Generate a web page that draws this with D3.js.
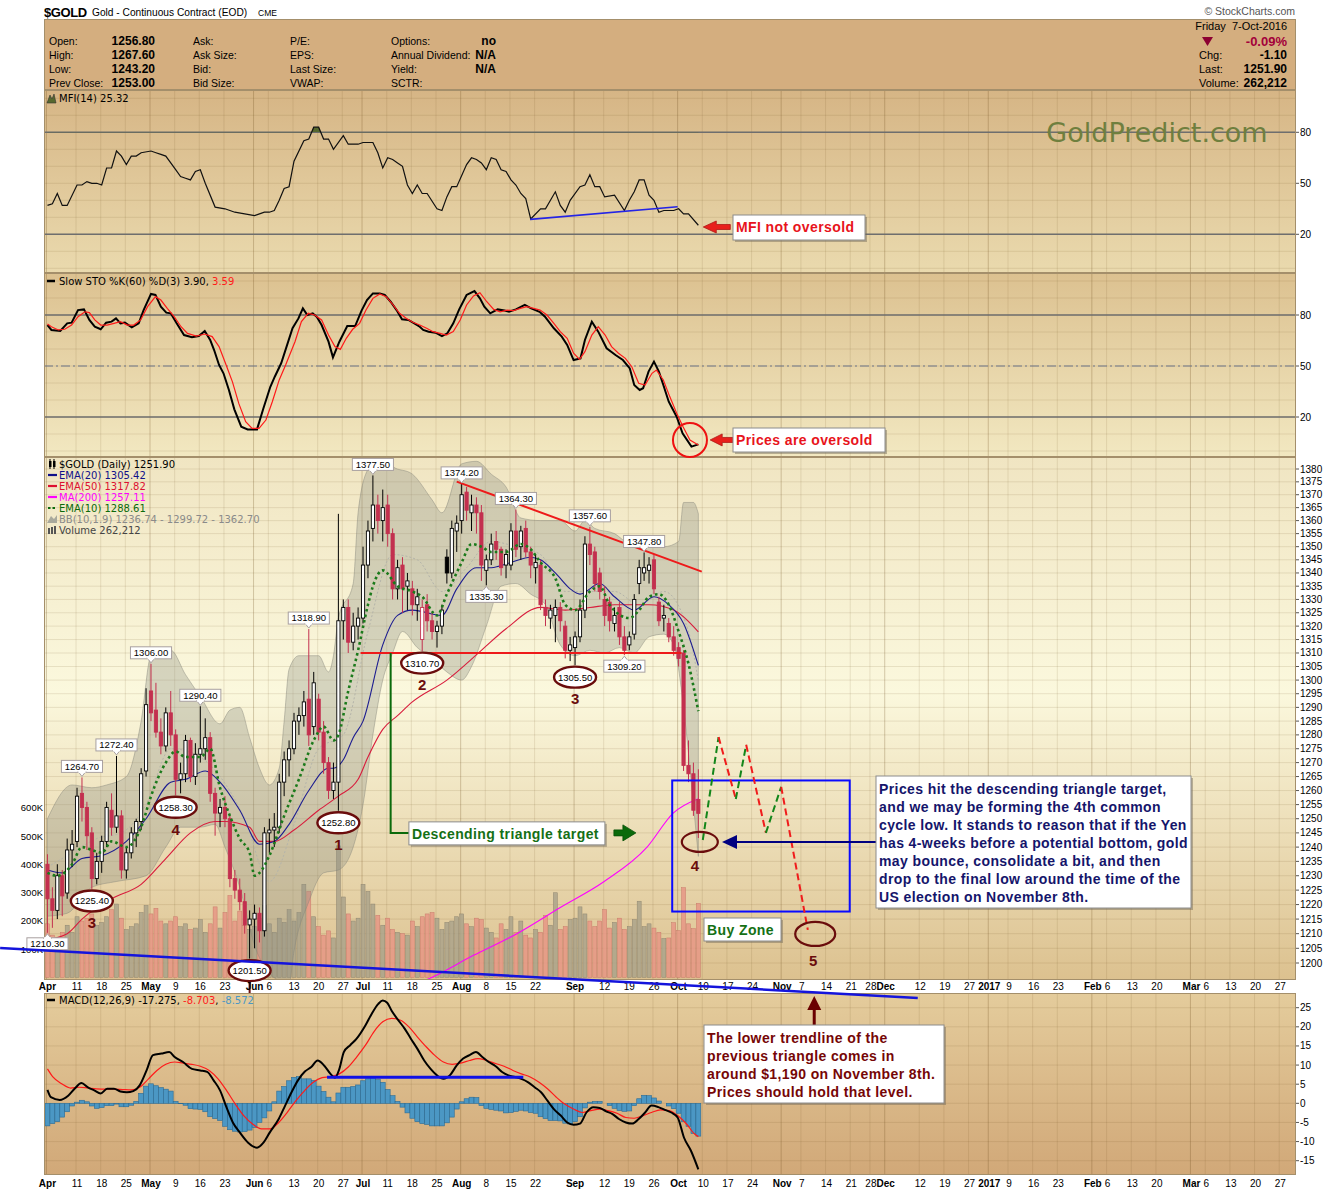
<!DOCTYPE html>
<html>
<head>
<meta charset="UTF-8">
<title>$GOLD - Continuous Contract</title>
<script src="https://d3js.org/d3.v7.min.js"></script>
<style>
  body { margin: 0; background: #fff; }
  text { font-family: "Liberation Sans", Arial, sans-serif; }
  .dv { font-family: "DejaVu Sans", Verdana, sans-serif; }
</style>
</head>
<body>
<div id="chart"></div>
<script>
// ---------- data (trading-day index 0 = 1-Apr-2016, 132 = 7-Oct-2016) ----------
const candles = [
[1234,1237.5,1210.3,1222],[1222,1226,1212,1218],[1218,1234,1215,1230],[1230,1232,1216,1223],
[1224,1243,1222,1239],[1239,1246,1233,1241],[1242,1261,1240,1258],[1259,1264.7,1249,1254],
[1254,1256,1239,1244],[1245,1247,1225.4,1229],[1229,1238,1227,1235],[1235,1244,1231,1242],
[1242,1256,1240,1254],[1253,1259,1244,1247],[1247,1272.4,1245,1251],[1251,1253,1229,1232],
[1232,1240,1229,1238],[1238,1247,1236,1245],[1245,1250,1240,1249],[1249,1268,1246,1266],
[1267,1297,1265,1291],[1296,1306,1285,1288],[1289,1299,1279,1281],[1281,1286,1273,1276],
[1276,1290,1274,1288],[1288,1296,1276,1280],[1280,1282,1258.3,1264],[1264,1270,1259,1266],
[1266,1280,1263,1278],[1278,1279,1263,1265],[1265,1277,1262,1273],[1273,1290.4,1270,1275],
[1275,1286,1271,1279],[1279,1281,1256,1259],[1259,1261,1244,1252],[1252,1257,1247,1254],
[1254,1258,1247,1250],[1250,1251,1226,1229],[1229,1232,1222,1225],[1225,1229,1218,1221],
[1221,1224,1210,1213],[1213,1218,1201.5,1215],[1215,1220,1205,1217],[1217,1219,1207,1211],
[1211,1247,1209,1245],[1245,1250,1238,1246],[1246,1252,1240,1247],[1247,1266,1245,1263],
[1263,1274,1258,1271],[1271,1278,1265,1275],[1275,1288,1273,1285],[1285,1290,1280,1287],
[1287,1296,1283,1292],[1293,1318.9,1276,1280],[1283,1303,1280,1299],[1293,1295,1278,1281],
[1281,1285,1266,1270],[1270,1272,1257,1260],[1260,1270,1257,1263],[1263,1362.6,1252.8,1322],
[1322,1330,1315,1327],[1327,1330,1310,1314],[1314,1325,1311,1320],[1320,1327,1315,1323],
[1323,1350,1321,1343],[1343,1360,1338,1356],[1357,1377.5,1352,1366],[1366,1370,1355,1360],
[1360,1372,1352,1365],[1366,1370,1350,1355],[1355,1357,1330,1334],[1334,1345,1330,1342],
[1343,1346,1325,1334],[1335,1340,1326,1337],[1334,1337,1324,1328],[1328,1334,1322,1331],
[1315,1330,1310.7,1327],[1328,1332,1318,1322],[1322,1325,1315,1318],[1318,1322,1312,1320],
[1320,1328,1317,1326],[1346,1349,1336,1340],[1340,1360,1338,1357],[1356,1362,1348,1359],
[1360,1374.2,1355,1370],[1371,1373,1360,1364],[1363,1370,1356,1366],[1366,1369,1355,1363],
[1363,1366,1337,1343],[1341,1347,1335.3,1345],[1345,1355,1343,1351],[1352,1356,1345,1349],
[1349,1350,1339,1342],[1343,1349,1338,1347],[1343,1359,1341,1356],[1356,1364.3,1346,1349],
[1350,1358,1345,1356],[1357,1360,1346,1348],[1348,1350,1338,1343],[1342,1347,1336,1344],
[1343,1345,1326,1328],[1327,1330,1320,1324],[1323,1328,1319,1326],[1324,1330,1314,1327],
[1327,1329,1318,1322],[1320,1322,1308,1311],[1311,1316,1307,1313],[1312,1318,1305.5,1316],
[1316,1330,1314,1326],[1326,1354,1323,1351],[1351,1357.6,1343,1347],[1348,1350,1333,1336],
[1340,1342,1330,1333],[1330,1335,1320,1324],[1329,1331,1318,1322],[1321,1327,1318,1324],
[1327,1329,1313,1316],[1316,1320,1309.2,1311],[1313,1318,1311,1316],[1317,1332,1315,1330],
[1336,1345,1332,1342],[1340,1347.8,1337,1342],[1341,1346,1336,1343],[1345,1347,1332,1334],
[1329,1331,1320,1322],[1323,1328,1318,1324],[1321,1323,1314,1316],[1316,1320,1309,1311],
[1312,1314,1305,1308],[1310,1311,1267,1269],[1269,1278,1263,1266],[1266,1270,1251,1253],
[1256.8,1267.6,1243.2,1251.9]
];

// volume, thousands of contracts
const volume = [
190,150,140,160,185,160,215,200,210,225,185,195,215,240,260,210,170,180,190,230,255,
225,245,200,190,200,215,180,190,170,175,205,160,190,250,175,230,290,200,235,185,170,
180,210,255,190,160,210,195,240,200,230,330,305,215,180,150,165,140,466,285,225,200,210,
330,305,260,220,185,210,170,160,155,150,200,180,215,225,230,210,170,195,200,215,
225,190,180,210,205,175,160,140,190,170,215,160,200,150,140,170,160,220,185,300,170,180,205,
210,250,225,200,180,200,240,175,195,210,170,180,205,270,180,190,175,160,138,140,194,
166,318,190,173,262.212
];

// overlays: [day index, price]
const ema20 = [[0,1232],[3,1231],[7,1236],[11,1237],[16,1242],[20,1250],[25,1263],[28,1264],[32,1267],[35,1263],[39,1253],[43,1241],[46,1242],[49,1248],[53,1260],[57,1268],[58,1268],[60,1271],[62,1279],[64,1285],[68,1313],[71,1324],[74,1326],[80,1324],[83,1334],[87,1342],[90,1342],[94,1344],[98,1346],[100,1345],[103,1340],[106,1334],[108,1332],[112,1336],[115,1331],[119,1326],[123,1331],[126,1328],[129,1321],[132,1305.42]];
const ema50 = [[0,1208],[4,1210],[7,1215],[13,1222],[19,1227],[24,1236],[29,1245],[34,1249],[36,1249],[41,1247],[43,1242],[46,1242],[50,1246],[55,1253],[59,1258],[63,1264],[65,1272],[68,1282],[71,1287],[74,1292],[81,1300],[88,1311],[93,1319],[100,1327],[105,1326],[110,1327],[115,1328],[122,1328],[127,1326],[132,1317.82]];
const ma200 = [[60,1187],[70,1191],[76.4,1194],[86.4,1202.6],[95.2,1210],[104,1219],[112.9,1228],[121.6,1240],[126.9,1252],[132,1257.11]];
const ema10 = [[0,1231],[2,1230],[5,1234],[7,1240],[9,1239],[11,1238],[13,1242],[16,1240],[19,1247],[21,1258],[24,1270],[26,1274],[28,1272],[31,1272],[33,1275],[35,1261],[37,1251],[39,1243],[41,1238],[42,1230],[43,1231],[45,1237],[48,1251],[51,1264],[54,1278],[56,1283],[58,1278],[59,1280],[61,1296],[63,1311],[65,1328],[66,1335],[68,1341],[71,1335],[74,1333],[76,1331],[79,1324],[81,1332],[84,1344],[86,1351],[88,1350],[90,1348],[93,1348],[96,1351],[98,1349],[100,1344],[103,1338],[105,1328],[107,1326],[110,1333],[112,1335],[114,1328],[118,1323],[120,1326],[122,1331],[124,1332],[126,1328],[128,1318],[130,1306],[132,1288.61]];
const bbUpper = [[0,1250],[5,1262],[9,1261],[12,1262],[16,1265],[19,1285],[21,1309],[25,1311],[28,1302],[31,1294],[35,1284],[37,1289],[39,1290],[41,1279],[43,1268],[45,1262],[47,1268],[48,1285],[49,1304],[51,1309],[55,1309],[57,1303],[58,1309],[59,1323],[62,1336],[63,1363],[65,1380],[68,1386],[70,1381],[74,1378],[78,1368],[80,1363],[84,1382],[87,1383],[90,1378],[93,1373],[96,1361],[100,1360],[104,1360],[107,1356],[109,1360],[111,1357],[115,1355],[118,1351],[121,1350],[125,1350],[128,1352],[129,1367],[131,1367],[132,1362.70]];
const bbLower = [[0,1216],[4,1217],[9,1226],[14,1228],[20,1230],[24,1240],[27,1247],[31,1247],[34,1248],[36,1240],[39,1226],[42,1206],[46,1195],[49,1193],[50,1204],[53,1221],[56,1231],[59,1232],[62,1240],[64,1255],[66,1280],[68,1300],[70,1310],[72,1318],[75,1312],[78,1308],[81,1303],[84,1300],[86,1305],[89,1320],[92,1335],[95,1336],[98,1332],[101,1328],[104,1313],[107,1309],[110,1311],[113,1310],[116,1312],[119,1310],[122,1316],[125,1317],[127,1313],[129,1290],[131,1255],[132,1236.74]];
const bbMid = [[0,1233],[5,1238],[10,1243],[15,1245],[20,1255],[25,1275],[30,1273],[35,1265],[40,1250],[45,1228],[50,1248],[55,1275],[60,1280],[65,1318],[70,1347],[75,1345],[80,1333],[85,1342],[90,1352],[95,1350],[100,1347],[105,1333],[110,1333],[115,1333],[120,1328],[125,1333],[130,1318],[132,1299.72]];

// MFI(14)
const mfi = [[0,37],[1,38],[2,44],[3,37],[4,37],[6,49],[7,49],[8,51],[9,50],[10,50],[11,49],[12,59],[13,59],[14,69],[15,66],[16,61],[17,66],[18,66],[19,68],[21,69],[22,68],[23,67],[24,66],[26,58],[27,54],[28,53],[29,52],[30,57],[31,58],[32,50],[34,36],[36,35],[37,34],[38,33],[40,32],[42,31],[43,32],[44,33],[45,33],[46,34],[47,40],[48,47],[49,48],[50,63],[52,75],[53,76],[54,83],[55,83],[56,76],[57,76],[58,70],[60,78],[61,73],[63,73],[64,74],[66,74],[67,68],[68,59],[69,65],[70,64],[71,62],[72,60],[73,49],[74,44],[75,49],[76,44],[77,44],[79,35],[80,34],[81,42],[82,48],[83,48],[85,61],[86,65],[87,64],[88,62],[89,58],[90,65],[91,64],[92,58],[93,57],[94,52],[95,49],[96,44],[97,41],[98,29],[100,35],[101,35],[103,45],[104,37],[105,33],[106,40],[108,48],[109,49],[110,55],[111,48],[112,48],[113,42],[115,43],[117,34],[118,40],[119,45],[120,52],[121,52],[122,43],[123,40],[124,33],[125,34],[127,34],[128,35],[129,32],[130,32],[132,25.32]];

// Slow STO %K(60) %D(3)
const stoK = [[0,74.1],[0.8,71.2],[2.6,70.6],[4,75.1],[4.9,75.5],[6.2,82.9],[7.4,83.3],[8.5,77.1],[9.6,73.1],[10.8,71.6],[11.9,75.5],[13,76.1],[13.9,78],[14.8,75.1],[15.7,75.5],[17.1,72.7],[18.5,75.1],[19.5,82.9],[21,92.4],[21.9,91.8],[23,84.9],[24.1,81.4],[25,81],[26.2,75.1],[27.7,68.2],[29.3,66.9],[30.7,67.6],[31.9,70.6],[33,65.3],[33.8,59.4],[34.8,50.6],[35.7,45.7],[36.8,35.9],[37.9,24.5],[39.3,14.3],[40.6,12.7],[42.5,12.7],[43.8,25.1],[45.2,37.8],[46.1,43.7],[47.4,51.6],[49.7,72.2],[50.9,78],[51.8,83.9],[52.7,80],[53.8,81],[54.7,78.6],[55.6,74.1],[57,64.3],[57.9,55.1],[59.2,64.3],[60.8,73.5],[62.4,73.5],[63.7,82.6],[64.8,88.8],[66,92.7],[67.4,92.7],[68.4,91.8],[69.6,87.8],[70.8,82.9],[71.9,77.5],[73.2,77.1],[74.4,75.1],[75.5,73.1],[76.2,71.2],[77.3,70.2],[78.7,69.6],[80,67.6],[81.1,69.2],[82.3,75.1],[83.5,83.3],[85,91.8],[86.6,94.1],[87.7,89.8],[88.6,84.9],[89.8,81],[91.3,83.3],[92.7,82.6],[93.6,81.9],[95,83.3],[96.8,85.9],[98.1,83.9],[99.8,81.9],[100.9,79],[102.7,72.2],[104.3,67.3],[105.4,62.4],[106.7,53.5],[108.1,54.5],[109,65.3],[110.4,76.1],[111.7,70.2],[113.4,60.4],[115.2,56.5],[116.7,53.5],[118.1,48.6],[119,38.8],[120.1,35.9],[120.8,36.9],[121.9,46.7],[123,52.6],[124,46.7],[124.9,38.8],[126,29],[127.6,20.2],[128.8,10.4],[130.6,2.6],[132,3.90]];
const stoD = [[0,74.7],[0.8,73.1],[2.2,71.2],[3.5,71.6],[4.9,74.1],[6.2,79],[7.6,81.9],[8.5,81.4],[9.6,77.1],[10.8,74.1],[12.1,74.1],[13.5,75.1],[14.8,76.1],[16.2,74.1],[17.5,74.1],[18.9,77.1],[20.3,84.9],[21.9,90.8],[23,88.8],[24.3,83.9],[25.7,79],[27.1,73.1],[28.4,69.2],[30.2,67.6],[31.9,68.8],[33.4,67.3],[34.8,61.4],[36.1,51.6],[37.5,40.8],[38.8,28],[40.2,17.3],[41.5,13.3],[42.9,13.3],[44.3,18.2],[45.6,29],[47,41.8],[48.3,50.6],[50.2,64.3],[51.5,76.1],[52.9,81],[54.2,80],[55.6,77.1],[57,68.2],[58.3,61.4],[59.4,59.8],[60.6,66.3],[61.9,71.6],[63.3,75.1],[64.6,82.9],[66,89.8],[67.4,92.4],[68.7,90.8],[70.1,85.9],[71.4,81],[72.8,78],[74.1,75.7],[75.5,74.1],[76.9,72.2],[78.2,70.2],[79.6,69.2],[80.9,68.2],[82.3,70.2],[83.7,77.1],[85,85.9],[86.4,91.2],[87.7,93.1],[89.1,87.8],[90.5,83.3],[91.8,81.9],[93.2,82.9],[94.5,82.6],[95.9,83.9],[97.2,84.9],[98.6,83.9],[99.9,82.9],[101.3,80],[102.7,75.1],[104,70.2],[105.4,66.3],[106.7,57.5],[107.9,53.9],[109,58.4],[110.4,68.2],[111.7,73.1],[113.1,68.2],[114.4,61.4],[115.8,57.5],[117.2,54.5],[118.5,49.6],[119.9,39.8],[121.2,38.8],[122.6,45.7],[123.5,47.6],[124.9,41.8],[126.2,32],[127.6,22.2],[128.9,14.3],[130.3,6.5],[132,3.59]];

// MACD(12,26,9)
const macdLine = [[0,3.5],[0.7,1.6],[2.5,0.9],[4.2,2.0],[5.5,3.8],[6.9,5.3],[8.2,4.2],[9.5,3.4],[10.8,2.6],[12.1,3.8],[13.5,3.8],[14.8,3.1],[16.1,2.9],[17.4,3.2],[18.7,4.7],[20.1,8.6],[21.4,12.6],[23.1,13.0],[24.7,13.4],[25.8,12.1],[27.5,10.8],[29.3,9.0],[31,8.6],[32.4,8.2],[33.7,6.0],[35,3.4],[36.3,-1.0],[37.6,-5.0],[39,-7.6],[40.7,-10.3],[42.5,-11.6],[43.8,-10.3],[45.1,-7.6],[46.9,-4.1],[48.2,-0.6],[49.5,2.9],[50.8,6.0],[52.2,8.3],[53.5,9.5],[54.8,11.2],[56.1,9.9],[57.4,7.7],[58.3,6.7],[59.2,9.0],[60.1,13.4],[61.4,15.2],[62.7,16.9],[64.5,20.4],[65.8,23.5],[67.1,26.0],[68,26.9],[68.9,26.3],[69.8,24.2],[71.1,21.8],[72.4,19.6],[73.7,16.9],[75,14.3],[76.4,11.2],[77.7,9.0],[79,7.3],[80.3,6.4],[81.6,7.3],[83,9.9],[84.3,11.7],[85.6,12.6],[86.9,13.4],[88.2,12.1],[89.5,10.8],[90.9,9.7],[92.2,8.2],[93.5,7.3],[94.8,6.9],[96.1,6.4],[97.5,5.5],[98.8,4.2],[100.1,2.9],[101.4,0.7],[102.7,-1.5],[104.1,-3.2],[105.4,-5.0],[106.7,-5.6],[108,-5.3],[109.3,-2.4],[110.7,-1.0],[112,-1.2],[113.3,-2.1],[114.6,-2.8],[115.9,-4.1],[117.3,-5.0],[118.6,-5.3],[119.9,-4.1],[121.2,-2.4],[122.5,-0.6],[123.9,-1.0],[125.2,-1.7],[126.5,-2.4],[127.8,-3.7],[129.1,-9.0],[130.5,-12.4],[132,-17.275]];
const macdSignal = [[0,9.0],[1.1,6.9],[2.9,5.1],[4.7,4.0],[6.4,4.2],[8.2,4.0],[9.9,3.8],[11.7,3.7],[13.5,3.7],[15.2,3.6],[17,3.5],[18.7,4.2],[20.5,6.4],[22.2,8.6],[24,10.2],[25.8,10.8],[27.5,10.5],[29.3,10.2],[31,9.7],[32.8,8.6],[34.6,6.4],[36.3,3.4],[38.1,-0.2],[39.8,-3.2],[41.6,-5.4],[43.4,-6.7],[45.1,-6.7],[46.9,-5.0],[48.6,-2.4],[50.4,0.7],[52.2,3.4],[53.9,5.5],[55.7,6.7],[57.4,7.0],[59.2,7.7],[61,9.5],[62.7,12.1],[64.5,15.2],[66.2,18.7],[68,21.3],[69.8,22.2],[71.5,21.8],[73.3,20.0],[75,17.4],[76.8,14.8],[78.5,12.6],[80.3,10.8],[82.1,10.2],[83.8,10.5],[85.6,11.2],[87.3,11.7],[89.1,11.2],[90.9,10.4],[92.6,9.7],[94.4,8.6],[96.1,7.7],[97.9,6.9],[99.7,5.5],[101.4,3.8],[103.2,1.6],[104.9,-0.2],[106.7,-1.5],[108.5,-2.4],[110.2,-1.9],[112,-1.5],[113.7,-1.9],[115.5,-2.6],[117.3,-3.7],[119,-3.9],[120.8,-3.2],[122.5,-2.4],[124.3,-1.7],[126.1,-1.9],[127.8,-3.2],[129.6,-5.4],[131.3,-8.1],[132,-8.703]];
const macdHist = [
-5.9,-5.3,-4.8,-3.6,-2.2,-0.7,0.3,0.8,0.4,-0.7,-1.3,-1.1,-0.6,-0.6,-0.2,-0.9,-0.9,-0.5,0.5,2.6,
4.5,5.1,4.6,4.1,3.7,3.2,0.5,-0.1,-0.5,-1.4,-1.5,-1.6,-2.2,-3.5,-4.0,-4.5,-6.0,-6.9,-7.3,-7.5,
-7.4,-7.0,-6.3,-5.0,-3.8,-2.0,0.4,3.2,4.4,5.9,6.8,7.0,6.4,6.4,6.0,4.5,3.1,1.6,0.4,2.7,
4.2,4.2,4.4,4.8,5.9,6.4,6.7,6.2,5.5,3.6,2.0,0.5,-1.0,-2.5,-3.9,-4.8,-5.3,-5.5,-5.9,-5.9,
-5.9,-5.1,-3.6,-1.5,0.4,1.2,1.6,1.5,-0.6,-1.3,-1.6,-1.8,-2.0,-2.5,-2.4,-2.1,-1.8,-2.0,-2.4,-2.6,
-3.5,-4.0,-4.5,-4.5,-4.6,-5.2,-5.4,-4.8,-3.5,-1.2,0.3,0.5,0.5,0.0,-0.6,-1.3,-1.9,-2.1,-2.0,-0.6,
1.2,2.1,2.0,1.4,0.6,0.0,-0.7,-1.4,-2.6,-4.8,-6.0,-7.9,-8.572
];

// date axis: [day index, label, month start]
const dateTicks = [[0,"Apr",1],[6,"11"],[11,"18"],[16,"25"],[21,"May",1],[26,"9"],[31,"16"],[36,"23"],
[42,"Jun",1],[45,"6"],[50,"13"],[55,"20"],[60,"27"],[64,"Jul",1],[69,"11"],[74,"18"],[79,"25"],
[84,"Aug",1],[89,"8"],[94,"15"],[99,"22"],[107,"Sep",1],[113,"12"],[118,"19"],[123,"26"],
[128,"Oct",1],[133,"10"],[138,"17"],[143,"24"],[149,"Nov",1],[153,"7"],[158,"14"],[163,"21"],[167,"28"],
[170,"Dec",1],[177,"12"],[182,"19"],[187,"27"],[191,"2017",1],[195,"9"],[200,"16"],[205,"23"],
[212,"Feb",1],[215,"6"],[220,"13"],[225,"20"],[232,"Mar",1],[235,"6"],[240,"13"],[245,"20"],[250,"27"]];

// price labels and cycle counts
const highLabels = [7,14,21,31,53,66,84,95,110,121];
const lowLabels = [0,89,117];
const cycleLows = [[9,"3"],[26,"4"],[41,"5"],[59,"1"],[76,"2"],[107,"3"]];

// drawn annotations (day index, value)
const triTop = [[83,1375.1],[132.7,1340.5]];
const triBase = [[63.5,1310],[128.6,1310]];
const targetLeg = [[69.6,1310],[69.6,1245],[73.3,1245]];
const oldTrend = [[-9.6,1205.1],[176.5,1188.2]];
const mfiTrend = [[97.9,28.8],[127.8,36.2]];
const macdLevel = [[56.7,6.8],[96.5,6.8]];
const projection = [[132.9,1242.5],[136.1,1279.2],[139.6,1257],[141.7,1276.4],[145.7,1245],[148.8,1261.3],[154.2,1211.3]];
const buyZone = [126.7,162.7,1263.6,1217.6];
const low4 = [132.3,1241.8], low5 = [155.7,1209.9];

// ---------- layout ----------
const W = 1340, H = 1192, L = 44, R = 1296;
const panels = { mfi:[90,273], sto:[273,457], price:[457,980], macd:[993,1175] };

const x  = d3.scaleLinear().domain([-0.7,253]).range([L,1295]);
const yP = d3.scaleLog().domain([1200,1380]).range([963,469]);
const yV = d3.scaleLinear().domain([0,600]).range([977.5,808]);
const yM = d3.scaleLinear().domain([20,80]).range([234.3,132.3]);
const yS = d3.scaleLinear().domain([20,80]).range([417,315]);
const yD = d3.scaleLinear().domain([-15,25]).range([1160.7,1007.7]);

const svg = d3.select("#chart").append("svg").attr("width",W).attr("height",H);
const defs = svg.append("defs");
const last = a => { const v = a[a.length-1]; return Array.isArray(v) ? v[1] : v; };

function gradient(id, stops) {
  const g = defs.append("linearGradient").attr("id",id).attr("x1",0).attr("y1",0).attr("x2",0).attr("y2",1);
  stops.forEach(([o,c]) => g.append("stop").attr("offset",o).attr("stop-color",c));
}
gradient("gMfi",[[0,"#d6b585"],[1,"#eadaae"]]);
gradient("gSto",[[0,"#dcc190"],[1,"#f2e8c1"]]);
gradient("gPrice",[[0,"#f0e5c2"],[0.45,"#fbf8dd"],[1,"#dcc18f"]]);
gradient("gMacd",[[0,"#e4cc9c"],[1,"#d1a878"]]);

Object.entries(panels).forEach(([k,[t,b]]) =>
  defs.append("clipPath").attr("id","c_"+k).append("rect").attr("x",L).attr("y",t).attr("width",R-L).attr("height",b-t));

function panel(key, gid, yScale, grid, labels) {
  const [t,b] = panels[key];
  svg.append("rect").attr("x",L).attr("y",t).attr("width",R-L).attr("height",b-t).attr("fill",`url(#${gid})`);
  const g = svg.append("g").attr("clip-path",`url(#c_${key})`);
  dateTicks.forEach(([i,,m]) => g.append("line").attr("x1",x(i)-1).attr("x2",x(i)-1).attr("y1",t).attr("y2",b)
    .attr("stroke","#6b4c1e").attr("stroke-opacity", m ? 0.28 : 0.13));
  grid.forEach(v => g.append("line").attr("x1",L).attr("x2",R).attr("y1",yScale(v)).attr("y2",yScale(v))
    .attr("stroke","#6b4c1e").attr("stroke-opacity",0.13));
  labels.forEach(v => {
    svg.append("line").attr("x1",R).attr("x2",R+3).attr("y1",yScale(v)).attr("y2",yScale(v)).attr("stroke","#555");
    svg.append("text").attr("x",R+4).attr("y",yScale(v)).attr("dy","0.35em").attr("font-size",10).text(v);
  });
  return g;
}
function border(key) {
  const [t,b] = panels[key];
  svg.append("rect").attr("x",L+0.5).attr("y",t+0.5).attr("width",R-L-1).attr("height",b-t-1)
    .attr("fill","none").attr("stroke","#a48f6b");
}
const line = (ys, curve) => d3.line().x(d => x(d[0])).y(d => ys(d[1])).curve(curve || d3.curveLinear);

// ---------- title + header ----------
svg.append("text").attr("x",44).attr("y",17).attr("font-size",13).attr("font-weight","bold").attr("letter-spacing","-0.4px").text("$GOLD");
svg.append("text").attr("x",92).attr("y",16).attr("font-size",10.2).text("Gold - Continuous Contract (EOD)");
svg.append("text").attr("x",258).attr("y",16).attr("font-size",8.5).text("CME");
svg.append("text").attr("x",1295).attr("y",15).attr("text-anchor","end").attr("font-size",10.5).attr("fill","#555").text("\u00A9 StockCharts.com");

svg.append("rect").attr("x",L+0.5).attr("y",19.5).attr("width",R-L-1).attr("height",70).attr("fill","#d4ae7f").attr("stroke","#a48f6b");
const hdr = [
  [49,155,[["Open:",candles[132][0].toFixed(2)],["High:",candles[132][1].toFixed(2)],["Low:",candles[132][2].toFixed(2)],["Prev Close:",candles[131][3].toFixed(2)]]],
  [193,0,[["Ask:",""],["Ask Size:",""],["Bid:",""],["Bid Size:",""]]],
  [290,0,[["P/E:",""],["EPS:",""],["Last Size:",""],["VWAP:",""]]],
  [391,496,[["Options:","no"],["Annual Dividend:","N/A"],["Yield:","N/A"],["SCTR:",""]]]
];
hdr.forEach(([lx,vx,rows]) => rows.forEach(([lab,val],k) => {
  svg.append("text").attr("x",lx).attr("y",45+k*14).attr("font-size",10.5).text(lab);
  if (val) svg.append("text").attr("x",vx).attr("y",45+k*14).attr("text-anchor","end").attr("font-size",12).attr("font-weight","bold").text(val);
}));
const lastC = candles[132][3], prevC = candles[131][3];
svg.append("text").attr("x",1287).attr("y",30).attr("text-anchor","end").attr("font-size",11).attr("xml:space","preserve").text("Friday  7-Oct-2016");
svg.append("path").attr("d","M1202,37 L1213,37 L1207.5,46 Z").attr("fill","#8c0032");
svg.append("text").attr("x",1287).attr("y",46).attr("text-anchor","end").attr("font-size",13).attr("font-weight","bold").attr("fill","#a3003a")
  .text(((lastC-prevC)/prevC*100).toFixed(2)+"%");
[["Chg:",(lastC-prevC).toFixed(2)],["Last:",lastC.toFixed(2)],["Volume:",d3.format(",")(Math.round(last(volume)*1000))]].forEach(([lab,val],k) => {
  svg.append("text").attr("x",1199).attr("y",59+k*14).attr("font-size",11).text(lab);
  svg.append("text").attr("x",1287).attr("y",59+k*14).attr("text-anchor","end").attr("font-size",12).attr("font-weight","bold").text(val);
});

// ---------- MFI panel ----------
const gm = panel("mfi","gMfi",yM,d3.range(0,101,10),[80,50,20]);
[80,20].forEach(v => gm.append("line").attr("x1",L).attr("x2",R).attr("y1",yM(v)).attr("y2",yM(v)).attr("stroke","#6e6e6e").attr("stroke-width",1.5));
defs.append("clipPath").attr("id","c_mfi80").append("rect").attr("x",L).attr("y",panels.mfi[0]).attr("width",R-L).attr("height",yM(80)-panels.mfi[0]);
gm.append("path").attr("d",d3.area().x(d=>x(d[0])).y0(yM(80)).y1(d=>yM(d[1]))(mfi)).attr("fill","#56682e").attr("clip-path","url(#c_mfi80)");
gm.append("path").attr("d",line(yM)(mfi)).attr("fill","none").attr("stroke","#111").attr("stroke-width",1.2);
gm.append("path").attr("d",line(yM)(mfiTrend)).attr("stroke","#2424e6").attr("stroke-width",1.6);
svg.append("text").attr("class","dv").attr("x",1157).attr("y",133).attr("dy","0.35em").attr("text-anchor","middle")
  .attr("font-size",27).attr("fill","#6f7f3e").text("GoldPredict.com");
svg.append("path").attr("d","M47,103 L50,95 L52,99 L54,94 L56,103 Z").attr("fill","#56682e").attr("stroke","#333").attr("stroke-width",0.6);
svg.append("text").attr("class","dv").attr("x",59).attr("y",98).attr("dy","0.35em").attr("font-size",10).text(`MFI(14) ${last(mfi).toFixed(2)}`);
border("mfi");

// ---------- STO panel ----------
const gs = panel("sto","gSto",yS,d3.range(0,101,10),[80,50,20]);
[80,20].forEach(v => gs.append("line").attr("x1",L).attr("x2",R).attr("y1",yS(v)).attr("y2",yS(v)).attr("stroke","#6e6e6e").attr("stroke-width",1.4));
gs.append("line").attr("x1",L).attr("x2",R).attr("y1",yS(50)).attr("y2",yS(50)).attr("stroke","#6c7488").attr("stroke-width",1.2).attr("stroke-dasharray","9,3,2,3");
gs.append("path").attr("d",line(yS)(stoK)).attr("fill","none").attr("stroke","#000").attr("stroke-width",2);
gs.append("path").attr("d",line(yS)(stoD)).attr("fill","none").attr("stroke","#ff1a1a").attr("stroke-width",1.2);
svg.append("line").attr("x1",47).attr("x2",55).attr("y1",281).attr("y2",281).attr("stroke","#000").attr("stroke-width",2.5);
const stoLeg = svg.append("text").attr("class","dv").attr("x",59).attr("y",281).attr("dy","0.35em").attr("font-size",10);
stoLeg.append("tspan").text(`Slow STO %K(60) %D(3) ${last(stoK).toFixed(2)}, `);
stoLeg.append("tspan").attr("fill","#ff1a1a").text(last(stoD).toFixed(2));
border("sto");

// ---------- price panel ----------
const gp = panel("price","gPrice",yP,d3.range(1200,1381,5),d3.range(1200,1381,5));
[100,200,300,400,500,600].forEach(v => svg.append("text").attr("x",43).attr("y",yV(v)).attr("dy","0.35em")
  .attr("text-anchor","end").attr("font-size",9.5).text(v+"K"));
const down = i => candles[i][3] < (i > 0 ? candles[i-1][3] : candles[i][0]);
gp.selectAll(".vol").data(volume).join("rect")
  .attr("x",(d,i)=>x(i)-2).attr("width",4).attr("y",d=>yV(d)).attr("height",d=>yV(0)-yV(d))
  .attr("fill",(d,i)=>down(i) ? "#e69685" : "#aca38b").attr("fill-opacity",0.85)
  .attr("stroke",(d,i)=>down(i) ? "#c97a6a" : "#8f8670").attr("stroke-width",0.5);
const mono = ys => line(ys, d3.curveMonotoneX);
const upP = mono(yP)(bbUpper), loP = mono(yP)(bbLower.slice().reverse());
gp.append("path").attr("d",upP+"L"+loP.slice(1)+"Z").attr("fill","#8e9084").attr("fill-opacity",0.34)
  .attr("stroke","#85857a").attr("stroke-opacity",0.45);
gp.append("path").attr("d",mono(yP)(bbMid)).attr("fill","none").attr("stroke","#b4b4aa").attr("stroke-dasharray","2,2");
gp.append("path").attr("d",mono(yP)(ma200)).attr("fill","none").attr("stroke","#ff00ff").attr("stroke-width",1.1);
gp.append("path").attr("d",mono(yP)(ema50)).attr("fill","none").attr("stroke","#d81c3c").attr("stroke-width",1.1);
gp.append("path").attr("d",mono(yP)(ema20)).attr("fill","none").attr("stroke","#1c1c90").attr("stroke-width",1.1);

const cg = gp.append("g");
candles.forEach(([o,h,l,c],i) => {
  const col = down(i) ? "#c3304f" : "#000";
  cg.append("line").attr("x1",x(i)).attr("x2",x(i)).attr("y1",yP(h)).attr("y2",yP(l)).attr("stroke",col);
  cg.append("rect").attr("x",x(i)-1.6).attr("width",3.2)
    .attr("y",yP(Math.max(o,c))).attr("height",Math.max(1,Math.abs(yP(o)-yP(c))))
    .attr("fill", c >= o ? "#fff" : col).attr("stroke",col).attr("stroke-width",0.9);
});
gp.append("path").attr("d",mono(yP)(ema10)).attr("fill","none").attr("stroke","#1b7a1b").attr("stroke-width",2.6).attr("stroke-dasharray","2.6,3");

// legend
const leg = [
  ["#000","$GOLD (Daily) "+lastC.toFixed(2),"candle"],
  ["#10108a",`EMA(20) ${last(ema20).toFixed(2)}`,"line"],
  ["#dd1030",`EMA(50) ${last(ema50).toFixed(2)}`,"line"],
  ["#ff00ff",`MA(200) ${last(ma200).toFixed(2)}`,"line"],
  ["#0b6a0b",`EMA(10) ${last(ema10).toFixed(2)}`,"dots"],
  ["#8a8a8a",`BB(10,1.9) ${last(bbLower).toFixed(2)} - ${last(bbMid).toFixed(2)} - ${last(bbUpper).toFixed(2)}`,"band"],
  ["#444",`Volume ${d3.format(",")(Math.round(last(volume)*1000))}`,"bars"]
];
leg.forEach(([col,txt,kind],k) => {
  const cy = 464 + k*11;
  if (kind === "line") svg.append("line").attr("x1",48).attr("x2",57).attr("y1",cy).attr("y2",cy).attr("stroke",col).attr("stroke-width",2.2);
  if (kind === "dots") svg.append("line").attr("x1",48).attr("x2",57).attr("y1",cy).attr("y2",cy).attr("stroke",col).attr("stroke-width",2.2).attr("stroke-dasharray","2.5,2");
  if (kind === "band") svg.append("path").attr("d",`M47,${cy+4} L51,${cy-3} L54,${cy} L57,${cy-4} L57,${cy+4} Z`).attr("fill","#a9a99c");
  if (kind === "bars") [48,51,54].forEach((bx,j) => svg.append("rect").attr("x",bx).attr("y",cy-2-j).attr("width",2).attr("height",6+j).attr("fill","#555"));
  if (kind === "candle") [49,53].forEach(bx => { svg.append("line").attr("x1",bx+1).attr("x2",bx+1).attr("y1",cy-5).attr("y2",cy+5).attr("stroke","#000");
    svg.append("rect").attr("x",bx).attr("y",cy-3).attr("width",2.5).attr("height",6).attr("fill","#000"); });
  svg.append("text").attr("class","dv").attr("x",59).attr("y",cy).attr("dy","0.35em").attr("font-size",10).attr("fill",col).text(txt);
});

// triangle lines, target leg, buy zone
gp.append("path").attr("d",line(yP)(triTop)).attr("stroke","#ee1a1a").attr("stroke-width",2);
gp.append("path").attr("d",line(yP)(triBase)).attr("stroke","#ee1a1a").attr("stroke-width",2);
gp.append("path").attr("d",line(yP)(targetLeg)).attr("fill","none").attr("stroke","#0b6a0b").attr("stroke-width",2);
gp.append("rect").attr("x",x(buyZone[0])).attr("y",yP(buyZone[2])).attr("width",x(buyZone[1])-x(buyZone[0]))
  .attr("height",yP(buyZone[3])-yP(buyZone[2])).attr("fill","none").attr("stroke","#0a0aff").attr("stroke-width",2);
projection.slice(1).forEach((p,k) => {
  const a = projection[k];
  gp.append("path").attr("d",line(yP)([a,p])).attr("stroke", p[1] > a[1] ? "#13861a" : "#f01c1c")
    .attr("stroke-width",2).attr("stroke-dasharray","7,4");
});
border("price");

// price labels
function boxLabel(i, price, above) {
  const txt = price.toFixed(2), cx = x(i), py = yP(price);
  const w = txt.length*5.3+4, hgt = 12;
  const by = above ? py-5-hgt : py+5;
  const tipY = above ? py-1 : py+1, baseY = above ? py-6 : py+6;
  svg.append("rect").attr("x",cx-w/2).attr("y",by).attr("width",w).attr("height",hgt).attr("fill","#fff").attr("stroke","#a8a0a0");
  svg.append("path").attr("d",`M${cx-4},${baseY} L${cx},${tipY} L${cx+4},${baseY}`).attr("fill","#fff").attr("stroke","#a8a0a0");
  svg.append("rect").attr("x",cx-3.5).attr("y",above ? by+hgt-1.5 : by-0.5).attr("width",7).attr("height",2).attr("fill","#fff");
  svg.append("text").attr("x",cx).attr("y",by+hgt/2).attr("dy","0.36em").attr("text-anchor","middle").attr("font-size",9.5).text(txt);
}
highLabels.forEach(i => boxLabel(i, candles[i][1], true));
lowLabels.forEach(i => boxLabel(i, candles[i][2], false));

function ring(cx, cy, rx, ry) {
  svg.append("ellipse").attr("cx",cx).attr("cy",cy).attr("rx",rx).attr("ry",ry).attr("fill","none").attr("stroke","#6a0c0c").attr("stroke-width",2.2);
}
function waveNum(cx, cy, t) {
  svg.append("text").attr("x",cx).attr("y",cy).attr("dy","0.35em").attr("text-anchor","middle")
    .attr("font-family","Liberation Serif, Times New Roman, serif").attr("font-weight","bold").attr("font-size",15).attr("fill","#6a0c0c").text(t);
}
cycleLows.forEach(([i,n]) => {
  const cx = x(i), py = yP(candles[i][2]), cy = py+12;
  svg.append("ellipse").attr("cx",cx).attr("cy",cy).attr("rx",21).attr("ry",10.5).attr("fill","#fff").attr("stroke","#6a0c0c").attr("stroke-width",2.4);
  svg.append("text").attr("x",cx).attr("y",cy).attr("dy","0.36em").attr("text-anchor","middle").attr("font-size",9.5).text(candles[i][2].toFixed(2));
  if (n === "5") {
    svg.append("line").attr("x1",cx).attr("x2",cx).attr("y1",cy+11).attr("y2",1012).attr("stroke","#6a0c0c").attr("stroke-width",2);
    waveNum(cx, 1026, n);
  } else waveNum(cx, cy+22, n);
});

// ---------- date axes ----------
function dateAxis(yb) {
  dateTicks.forEach(([i,lab,m]) => svg.append("text").attr("x",x(i)).attr("y",yb).attr("text-anchor","middle")
    .attr("font-size",10).attr("font-weight", m ? "bold" : "normal").text(lab));
}
dateAxis(990);
dateAxis(1187);

// ---------- MACD panel ----------
const gd = panel("macd","gMacd",yD,d3.range(-15,26,5),d3.range(-15,26,5));
gd.selectAll(".h").data(macdHist).join("rect")
  .attr("x",(d,i)=>x(i)-2.45).attr("width",4.9)
  .attr("y",d=>Math.min(yD(0),yD(d))).attr("height",d=>Math.abs(yD(d)-yD(0)))
  .attr("fill","#4b97c4").attr("stroke","#2b6b94").attr("stroke-width",0.6);
gd.append("path").attr("d",line(yD,d3.curveMonotoneX)(macdSignal)).attr("fill","none").attr("stroke","#ff1a1a").attr("stroke-width",1.2);
gd.append("path").attr("d",line(yD,d3.curveMonotoneX)(macdLine)).attr("fill","none").attr("stroke","#000").attr("stroke-width",2);
gd.append("path").attr("d",line(yD)(macdLevel)).attr("stroke","#1010e6").attr("stroke-width",3);
svg.append("line").attr("x1",47).attr("x2",55).attr("y1",1000).attr("y2",1000).attr("stroke","#000").attr("stroke-width",2.5);
const mLeg = svg.append("text").attr("class","dv").attr("x",59).attr("y",1000).attr("dy","0.35em").attr("font-size",10);
mLeg.append("tspan").text(`MACD(12,26,9) ${last(macdLine).toFixed(3)}, `);
mLeg.append("tspan").attr("fill","#ff1a1a").text(last(macdSignal).toFixed(3));
mLeg.append("tspan").text(", ");
mLeg.append("tspan").attr("fill","#4b97c4").text(last(macdHist).toFixed(3));
border("macd");

// ---------- annotations ----------
svg.append("path").attr("d",line(yP)(oldTrend)).attr("stroke","#1414dc").attr("stroke-width",2.5);

function callout(x0, y0, w, h, lines, color, base) {
  svg.append("rect").attr("x",x0+2).attr("y",y0+2).attr("width",w).attr("height",h).attr("fill","#6e6656").attr("opacity",0.45);
  svg.append("rect").attr("x",x0).attr("y",y0).attr("width",w).attr("height",h).attr("fill","#fff").attr("stroke","#8c8c8c");
  const t = svg.append("text").attr("fill",color).attr("font-weight","bold").attr("font-size",14).attr("letter-spacing","0.4px");
  lines.forEach((s,k) => t.append("tspan").attr("x",x0+3).attr("y",y0+base+k*18).text(s));
}
function blockArrow(tx, ty, dir, len, head, hw, sw, col) {
  const s = dir === "left" ? 1 : -1;
  const p = [[tx,ty],[tx+s*head,ty-hw],[tx+s*head,ty-sw],[tx+s*len,ty-sw],[tx+s*len,ty+sw],[tx+s*head,ty+sw],[tx+s*head,ty+hw]];
  svg.append("path").attr("d","M"+p.join("L")+"Z").attr("fill",col).attr("stroke",d3.color(col).darker(0.8)).attr("stroke-width",0.8);
}

// MFI not oversold
blockArrow(x(133), yM(24.3), "left", 27, 13, 6, 2.5, "#e8201c");
callout(733, 215, 132, 25, ["MFI not oversold"], "#e8141c", 17);
// prices are oversold
svg.append("circle").attr("cx",x(130.3)).attr("cy",yS(6.5)).attr("r",17).attr("fill","none").attr("stroke","#ee1111").attr("stroke-width",2);
blockArrow(x(134.4), yS(6.5), "left", 23, 12, 6, 2.5, "#e8201c");
callout(733, 428, 152, 24, ["Prices are oversold"], "#e8141c", 17);

// descending triangle target
callout(x(73.3), yP(1245)-11, 196, 23, ["Descending triangle target"], "#157015", 17);
blockArrow(x(73.3)+227, yP(1245), "right", 22, 13, 8, 3, "#0b6a0b");

// buy zone, cycle lows 4 and 5
callout(704, 918, 77, 23, ["Buy Zone"], "#157015", 17);
ring(x(low4[0]), yP(low4[1]), 18, 10);
waveNum(x(low4[0])-5, yP(low4[1])+24, "4");
ring(x(low5[0]), yP(low5[1]), 20, 12);
waveNum(x(low5[0])-2, yP(low5[1])+27, "5");

// main commentary with navy pointer
svg.append("line").attr("x1",876).attr("x2",x(136.8)+14).attr("y1",yP(low4[1])).attr("y2",yP(low4[1])).attr("stroke","#000080").attr("stroke-width",2);
svg.append("path").attr("d",`M${x(136.8)},${yP(low4[1])} L${x(136.8)+15},${yP(low4[1])-7} L${x(136.8)+15},${yP(low4[1])+7} Z`).attr("fill","#000080");
callout(876, 776, 315, 132, [
  "Prices hit the descending triangle target,",
  "and we may be forming the 4th common",
  "cycle low. It stands to reason that if the Yen",
  "has 4-weeks before a potential bottom, gold",
  "may bounce, consolidate a bit, and then",
  "drop to the final low around the time of the",
  "US election on November 8th."], "#15156b", 18);

// lower trendline note
const ax = x(155.5);
svg.append("rect").attr("x",ax-1.5).attr("y",1009).attr("width",3).attr("height",16).attr("fill","#6a0000");
svg.append("path").attr("d",`M${ax},996 L${ax-7},1010 L${ax+7},1010 Z`).attr("fill","#6a0000");
callout(704, 1025, 240, 78, [
  "The lower trendline of the",
  "previous triangle comes in",
  "around $1,190 on November 8th.",
  "Prices should hold that level."], "#760606", 18);
</script>
</body>
</html>
